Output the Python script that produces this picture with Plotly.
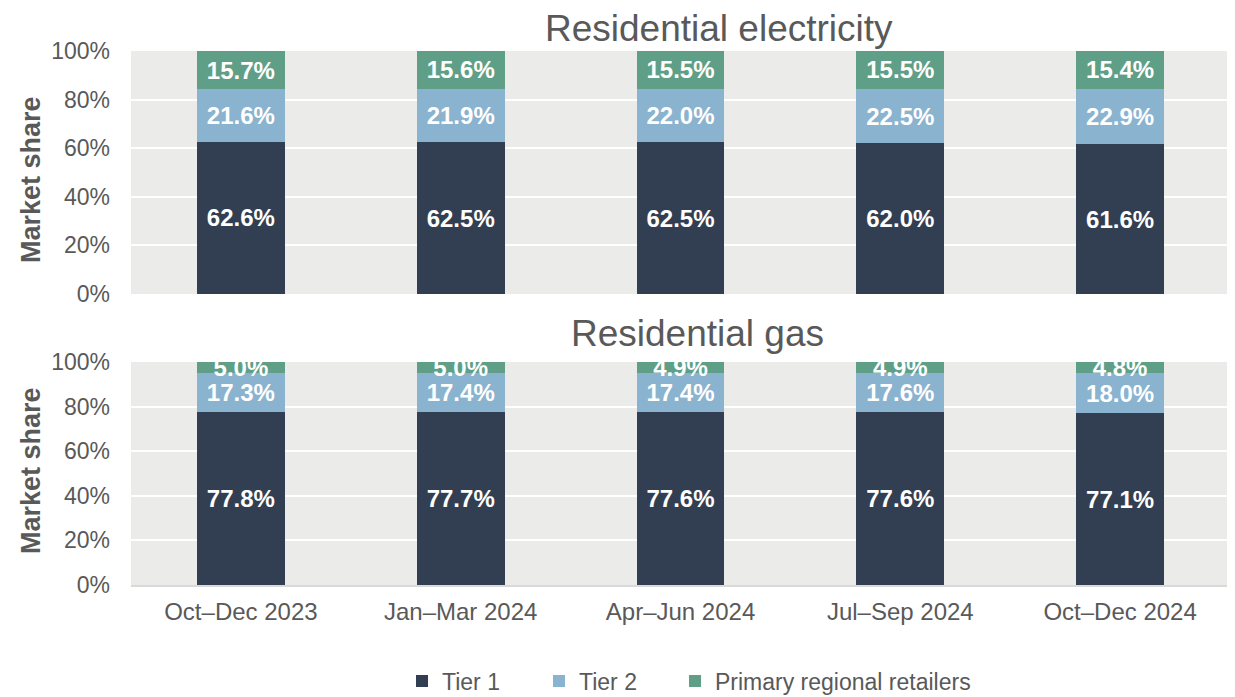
import plotly.graph_objects as go
from plotly.subplots import make_subplots

categories = ["Oct–Dec 2023", "Jan–Mar 2024", "Apr–Jun 2024", "Jul–Sep 2024", "Oct–Dec 2024"]
elec_tier1 = [62.6, 62.5, 62.5, 62.0, 61.6]
elec_tier2 = [21.6, 21.9, 22.0, 22.5, 22.9]
elec_prim = [15.7, 15.6, 15.5, 15.5, 15.4]
gas_tier1 = [77.8, 77.7, 77.6, 77.6, 77.1]
gas_tier2 = [17.3, 17.4, 17.4, 17.6, 18.0]
gas_prim = [5.0, 5.0, 4.9, 4.9, 4.8]
series_names = ["Tier 1", "Tier 2", "Primary regional retailers"]
colors = ["#323f52", "#8ab3cf", "#5f9f88"]
tick_vals = [0, 0.2, 0.4, 0.6, 0.8, 1.0]
tick_text = ["0%", "20%", "40%", "60%", "80%", "100%"]

# page body adds an 8px offset; figure coordinates = screen - 8
OFF = 8
W, H = 1227, 689
ml, mr, mt, mb = 131 - OFF, W - (1230 - OFF), 51 - OFF, H - (585 - OFF)
ph = H - mt - mb
pw = W - ml - mr

def py(screen_y):
    return (H - mb - (screen_y - OFF)) / ph

def px(screen_x):
    return ((screen_x - OFF) - ml) / pw

fig = make_subplots(rows=2, cols=1, shared_xaxes=False)

grey = "#595959"
font = "Liberation Sans, Arial, sans-serif"
legend_ids = ["legend", "legend2", "legend3"]
legend_text_x = [443, 580, 716]

for row, data in ((1, [elec_tier1, elec_tier2, elec_prim]), (2, [gas_tier1, gas_tier2, gas_prim])):
    for i, vals in enumerate(data):
        fig.add_trace(go.Bar(
            x=categories, y=[v / 100 for v in vals], name=series_names[i],
            marker=dict(color=colors[i], line=dict(width=0)),
            text=[f"{v:.1f}%" for v in vals], textposition="inside",
            insidetextanchor="middle", constraintext="none",
            textfont=dict(color="white", size=24, family=font, weight="bold"),
            width=0.4, showlegend=(row == 1), legend=legend_ids[i],
            hoverinfo="skip",
        ), row=row, col=1)

fig.update_layout(
    barmode="stack", width=W, height=H,
    margin=dict(l=ml, r=mr, t=mt, b=mb, autoexpand=False),
    plot_bgcolor="#ebebe9", paper_bgcolor="white",
    font=dict(family=font, color=grey, size=24),
)
for lid, tx in zip(legend_ids, legend_text_x):
    fig.layout[lid] = dict(orientation="h", x=(tx - 41 - OFF) / W, xref="container", xanchor="left",
                           y=(H - (681 - OFF)) / H, yref="container", yanchor="middle",
                           font=dict(size=23, color=grey), itemwidth=30,
                           bgcolor="rgba(0,0,0,0)", borderwidth=0)

fig.update_layout(
    yaxis=dict(domain=[py(294), 1.0]),
    yaxis2=dict(domain=[0, py(362)]),
)
for ax in ("yaxis", "yaxis2"):
    fig.layout[ax].update(range=[0, 1.0], tickvals=tick_vals, ticktext=tick_text,
                          showgrid=True, gridcolor="white", gridwidth=2, zeroline=False,
                          tickfont=dict(size=23, color=grey), ticks="", ticklen=0,
                          automargin=False, ticklabelstandoff=20)
fig.update_xaxes(showline=False, tickfont=dict(size=24, color=grey), automargin=False)
fig.update_layout(xaxis=dict(showticklabels=False),
                  xaxis2=dict(showline=True, linecolor="#d9d9d9", linewidth=2, ticklabelstandoff=4))

fig.add_annotation(text="Residential electricity", x=px(719), y=py(28), xref="paper", yref="paper",
                   showarrow=False, font=dict(size=37, color=grey), xanchor="center", yanchor="middle")
fig.add_annotation(text="Residential gas", x=px(697), y=py(333), xref="paper", yref="paper",
                   showarrow=False, font=dict(size=37, color=grey), xanchor="center", yanchor="middle")
for yc in (180, 471):
    fig.add_annotation(text="<b>Market share</b>", x=px(31), y=py(yc), xref="paper", yref="paper",
                       showarrow=False, textangle=-90, font=dict(size=27, color=grey),
                       xanchor="center", yanchor="middle")

fig.write_html("out.html")
